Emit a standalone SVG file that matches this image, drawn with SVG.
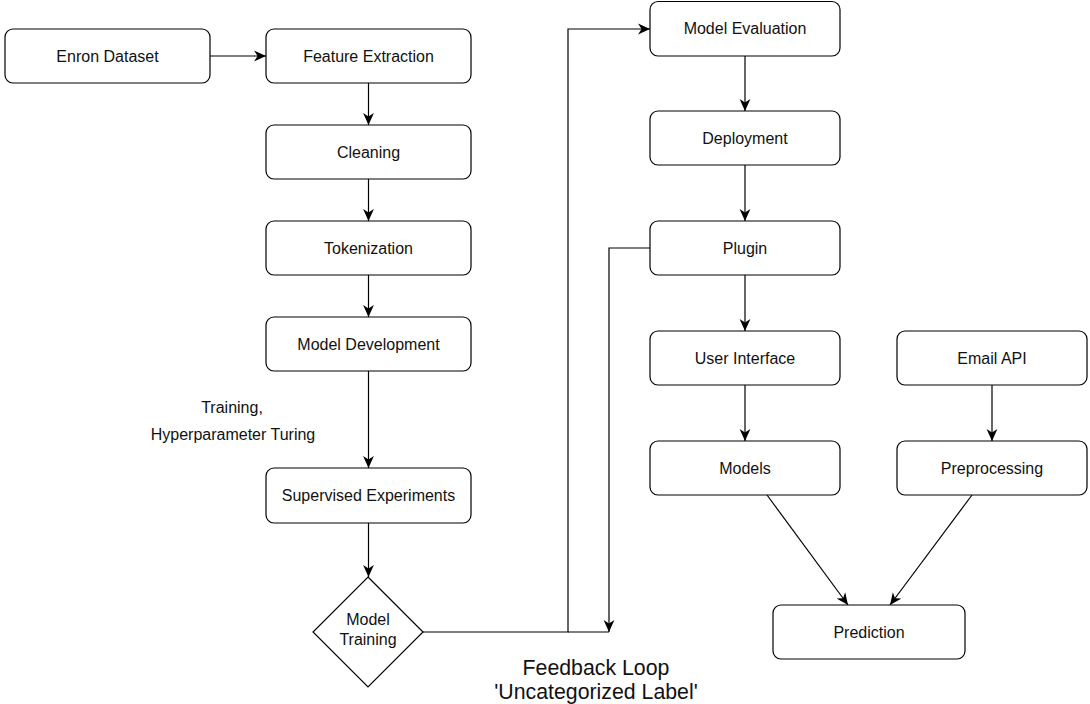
<svg xmlns="http://www.w3.org/2000/svg" width="1090" height="704" viewBox="0 0 1090 704">
  <defs>
    <style>
      .node rect, .node path { fill: #ffffff; stroke: #000000; stroke-width: 1.2; }
      .node text, .label { font-family: "Liberation Sans", Arial, Helvetica, sans-serif; font-size: 16px; fill: #111111; text-anchor: middle; }
      .big { font-size: 21.3px; }
      .edge { fill: none; stroke: #000000; stroke-width: 1.2; }
    </style>
    <marker id="arrow" viewBox="0 0 10 10" refX="10" refY="5" markerWidth="12" markerHeight="12" markerUnits="userSpaceOnUse" orient="auto">
      <path d="M0,0.5 L10,5 L0,9.5 L3,5 z" fill="#000000"/>
    </marker>
  </defs>
  <rect width="1090" height="704" fill="#ffffff"/>

  <g id="connectors">
    <line class="edge" x1="210" y1="56" x2="266" y2="56" marker-end="url(#arrow)"/>
    <line class="edge" x1="368.5" y1="83" x2="368.5" y2="125" marker-end="url(#arrow)"/>
    <line class="edge" x1="368.5" y1="179" x2="368.5" y2="221" marker-end="url(#arrow)"/>
    <line class="edge" x1="368.5" y1="275" x2="368.5" y2="317" marker-end="url(#arrow)"/>
    <line class="edge" x1="368.5" y1="371" x2="368.5" y2="468" marker-end="url(#arrow)"/>
    <line class="edge" x1="368.5" y1="523" x2="368.5" y2="577" marker-end="url(#arrow)"/>
    <path class="edge" d="M423,632 L568,632 L568,29 L650,29" marker-end="url(#arrow)"/>
    <line class="edge" x1="568" y1="632" x2="609" y2="632"/>
    <path class="edge" d="M650,248 L609,248 L609,632" marker-end="url(#arrow)"/>
    <line class="edge" x1="745" y1="56" x2="745" y2="111" marker-end="url(#arrow)"/>
    <line class="edge" x1="745" y1="165" x2="745" y2="221" marker-end="url(#arrow)"/>
    <line class="edge" x1="745" y1="275" x2="745" y2="331" marker-end="url(#arrow)"/>
    <line class="edge" x1="745" y1="385" x2="745" y2="441" marker-end="url(#arrow)"/>
    <line class="edge" x1="992" y1="385" x2="992" y2="441" marker-end="url(#arrow)"/>
    <line class="edge" x1="767" y1="495" x2="848" y2="605" marker-end="url(#arrow)"/>
    <line class="edge" x1="972" y1="495" x2="890" y2="605" marker-end="url(#arrow)"/>
  </g>

  <g id="enron-dataset" class="node"><rect x="5" y="29" width="205" height="54" rx="8"/><text x="107.5" y="61.5">Enron Dataset</text></g>
  <g id="feature-extraction" class="node"><rect x="266" y="29" width="205" height="54" rx="8"/><text x="368.5" y="61.5">Feature Extraction</text></g>
  <g id="cleaning" class="node"><rect x="266" y="125" width="205" height="54" rx="8"/><text x="368.5" y="157.5">Cleaning</text></g>
  <g id="tokenization" class="node"><rect x="266" y="221" width="205" height="54" rx="8"/><text x="368.5" y="253.5">Tokenization</text></g>
  <g id="model-development" class="node"><rect x="266" y="317" width="205" height="54" rx="8"/><text x="368.5" y="349.5">Model Development</text></g>
  <g id="supervised-experiments" class="node"><rect x="266" y="468" width="205" height="55" rx="8"/><text x="368.5" y="501">Supervised Experiments</text></g>
  <g id="model-training" class="node"><path d="M368,577 L423,632 L368,687 L313,632 Z"/><text x="368" y="625">Model</text><text x="368" y="645">Training</text></g>

  <g id="model-evaluation" class="node"><rect x="650" y="1.5" width="190" height="54.5" rx="8"/><text x="745" y="34">Model Evaluation</text></g>
  <g id="deployment" class="node"><rect x="650" y="111" width="190" height="54" rx="8"/><text x="745" y="143.5">Deployment</text></g>
  <g id="plugin" class="node"><rect x="650" y="221" width="190" height="54" rx="8"/><text x="745" y="253.5">Plugin</text></g>
  <g id="user-interface" class="node"><rect x="650" y="331" width="190" height="54" rx="8"/><text x="745" y="363.5">User Interface</text></g>
  <g id="models" class="node"><rect x="650" y="441" width="190" height="54" rx="8"/><text x="745" y="473.5">Models</text></g>
  <g id="email-api" class="node"><rect x="897" y="331" width="190" height="54" rx="8"/><text x="992" y="363.5">Email API</text></g>
  <g id="preprocessing" class="node"><rect x="897" y="441" width="190" height="54" rx="8"/><text x="992" y="473.5">Preprocessing</text></g>
  <g id="prediction" class="node"><rect x="773" y="605" width="192" height="54" rx="8"/><text x="869" y="637.5">Prediction</text></g>

  <g id="labels">
    <text class="label" x="232" y="413">Training,</text>
    <text class="label" x="233" y="440">Hyperparameter Turing</text>
    <text class="label big" x="596" y="675">Feedback Loop</text>
    <text class="label big" x="596" y="699">'Uncategorized Label'</text>
  </g>
</svg>
